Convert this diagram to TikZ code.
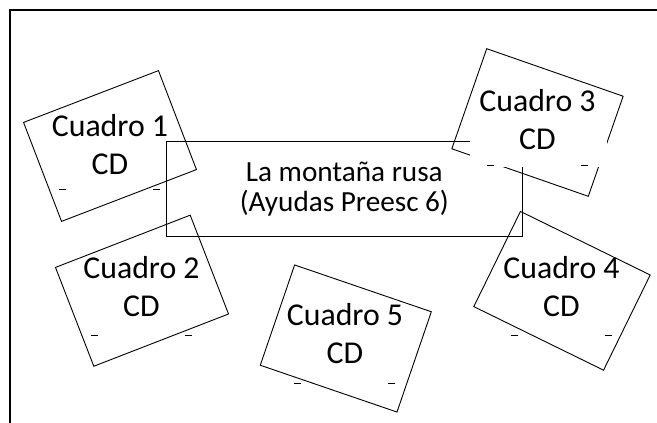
\documentclass[tikz,border=0pt]{standalone}
\usepackage{fontspec}
\setmainfont{Carlito}
\begin{document}
\begin{tikzpicture}[x=1pt, y=-1pt,
    cuadro/.style={draw, line width=0.9pt, minimum width=144.5pt, minimum height=106pt, inner sep=0pt},
    etiqueta/.style={align=center, font=\fontsize{31.8}{38}\selectfont, inner sep=0pt},
    guion/.style={line width=0.8pt}]
    \useasboundingbox (0,0) rectangle (657,423);

    % Frame
    \draw[line width=1.6pt] (10,423) -- (10,10) -- (657,10);

    % Central box
    \node[draw, line width=0.9pt, minimum width=356.7pt, minimum height=94.3pt, align=center,
        font=\fontsize{29.2}{30}\selectfont] (rusa) at (344.3,188.8) {La montaña rusa\\(Ayudas Preesc 6)};

    % Tilted boxes
    \foreach \n/\x/\y/\a in {1/110/146/21, 2/142/290.7/21.2, 4/562/290.8/-26.1, 5/345.8/338.5/-18.9, 3/537.5/122.5/-19.2}
        \node[cuadro, rotate=\a] (c\n) at (\x,\y) {};

    % White text area of box 3
    \fill[white] (470,100) rectangle (606.5,167);

    % Labels and dashes
    \foreach \n/\x/\y/\d in {1/110/144.7/44.6, 2/141.5/287/48, 3/537.5/120/45.5, 4/561.5/287/48, 5/345/334/49}
    {
        \node[etiqueta] (t\n) at (\x,\y) {Cuadro \n\\CD};
        \draw[guion, shift={(t\n.center)}] (-51,\d) -- ++(7,0) (43,\d) -- ++(7,0);
    }
\end{tikzpicture}
\end{document}
